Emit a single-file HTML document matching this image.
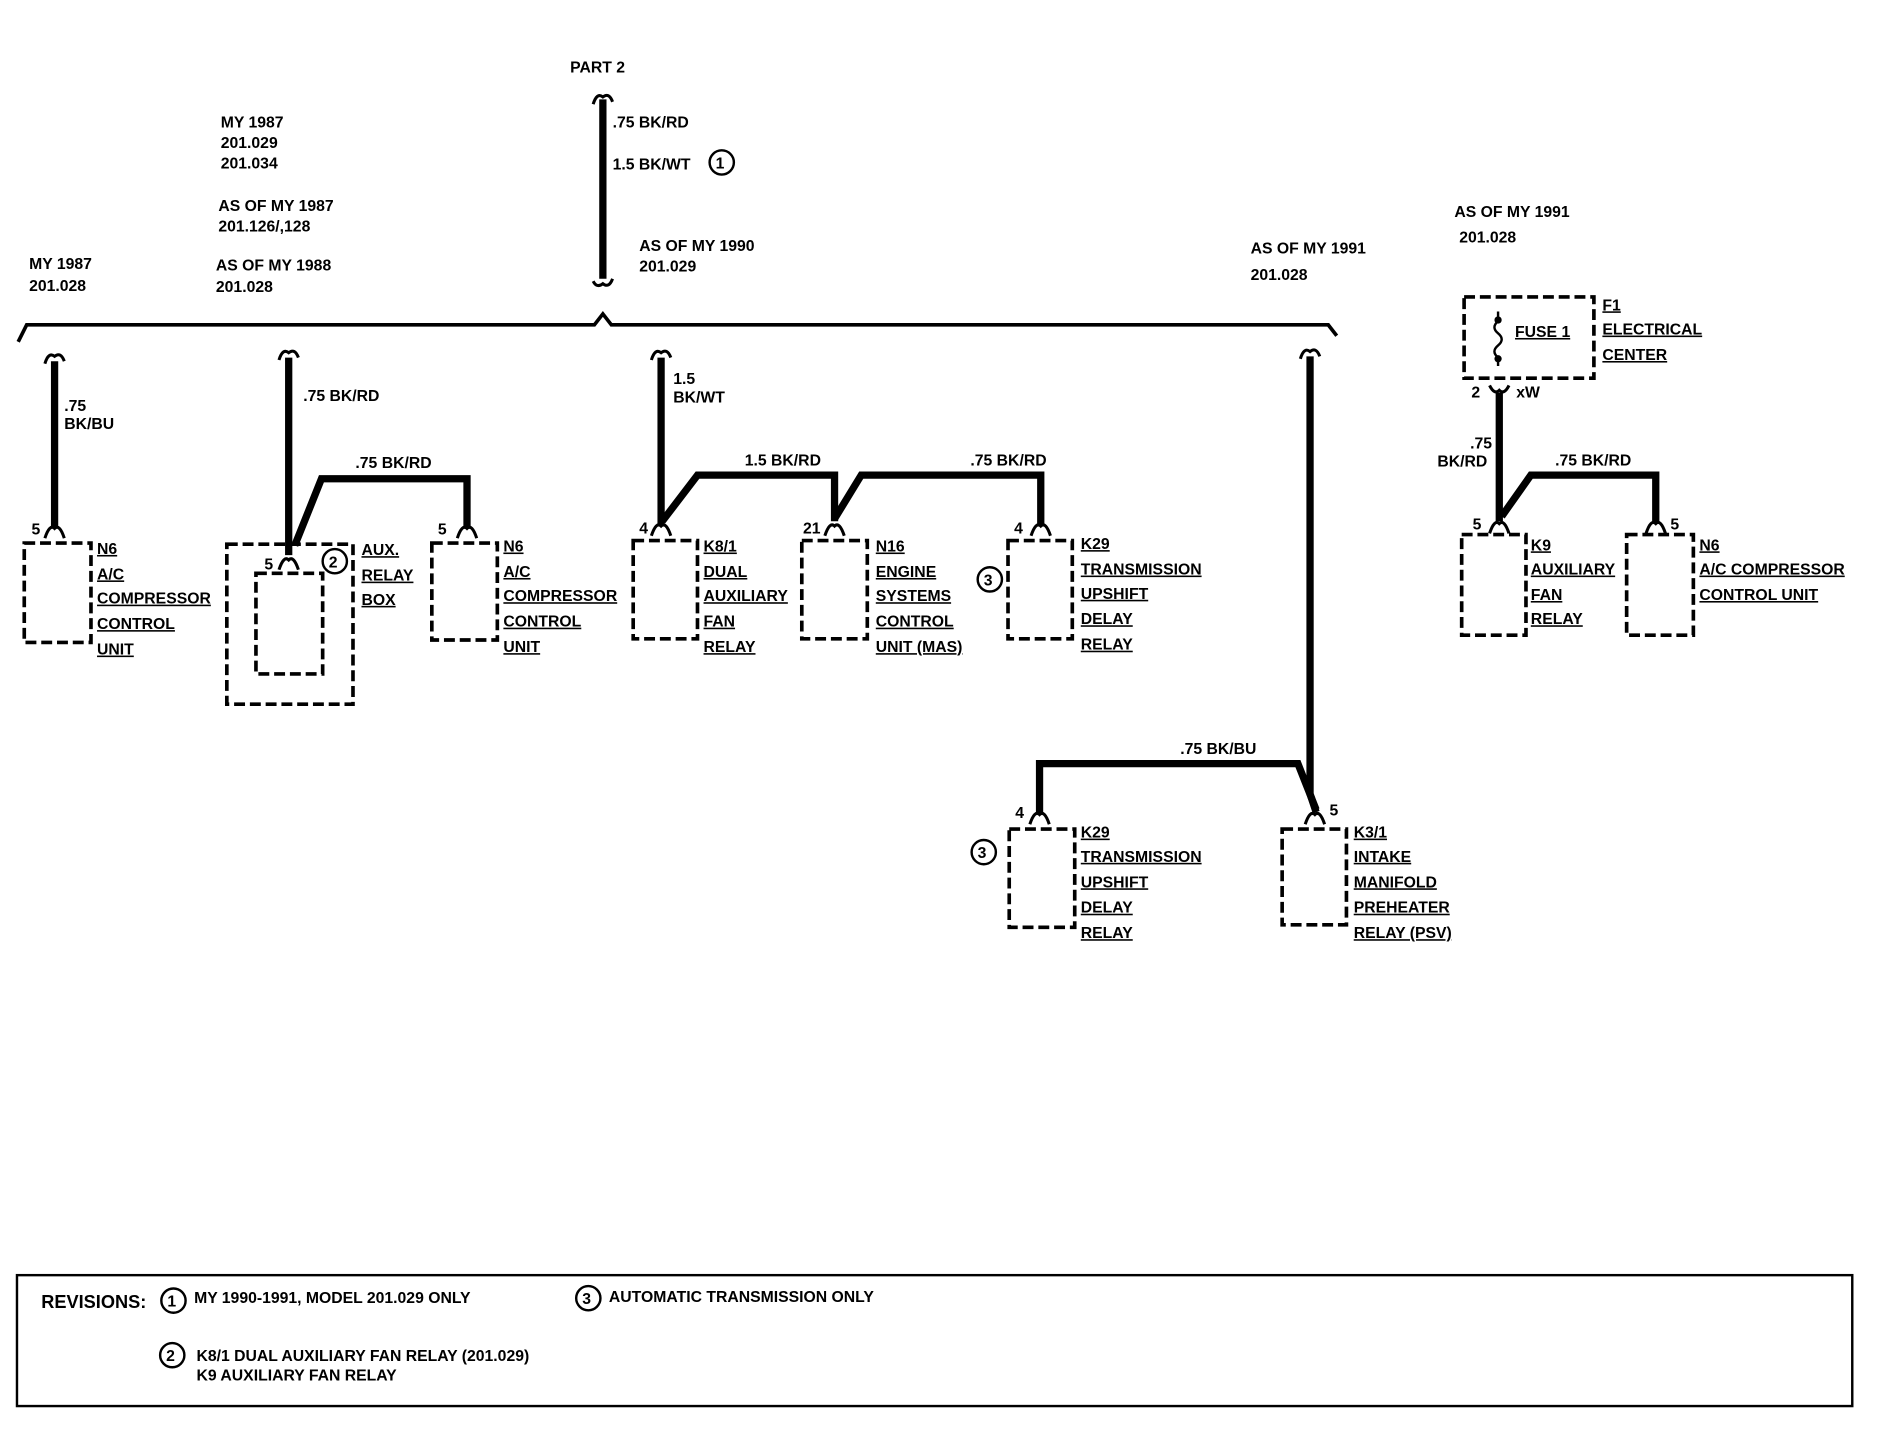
<!DOCTYPE html>
<html><head><meta charset="utf-8"><style>
html,body{margin:0;padding:0;background:#fff;}
svg{display:block;}
text{font-family:"Liberation Sans",Arial,sans-serif;font-weight:bold;font-size:13px;fill:#000;}
.u{text-decoration:underline;}
.w{stroke:#000;stroke-width:6;fill:none;stroke-linejoin:miter;}
.b{stroke:#000;stroke-width:3;fill:none;stroke-dasharray:9 4;}
.h{stroke:#000;stroke-width:2.5;fill:none;}
.c{stroke:#000;stroke-width:2;fill:#fff;}
</style></head><body>
<svg width="1902" height="1440" viewBox="0 0 1568 1188" preserveAspectRatio="none" xmlns="http://www.w3.org/2000/svg">
<rect width="1568" height="1188" fill="#fff"/>
<text x="470" y="60">PART 2</text>
<line class="w" x1="497" y1="82" x2="497" y2="230"/>
<path class="h" d="M489 86 Q492 76 497 80 Q502 76 505 84"/>
<path class="h" d="M489 232 Q492 238 497 234 Q502 238 505 230"/>
<text x="505" y="105">.75 BK/RD</text>
<text x="505" y="140">1.5 BK/WT</text>
<circle class="c" cx="595" cy="134" r="10"/><text x="590" y="139">1</text>
<text x="182" y="105">MY 1987</text><text x="182" y="122">201.029</text><text x="182" y="139">201.034</text>
<text x="180" y="174">AS OF MY 1987</text><text x="180" y="191">201.126/,128</text>
<text x="178" y="223">AS OF MY 1988</text><text x="178" y="241">201.028</text>
<text x="24" y="222">MY 1987</text><text x="24" y="240">201.028</text>
<text x="527" y="207">AS OF MY 1990</text><text x="527" y="224">201.029</text>
<text x="1031" y="209">AS OF MY 1991</text><text x="1031" y="231">201.028</text>
<text x="1199" y="179">AS OF MY 1991</text><text x="1203" y="200">201.028</text>
<path d="M15 282 L22 268 L490 268 L497 259 L504 268 L1095 268 L1102 277" stroke="#000" stroke-width="3" fill="none"/>

<line class="w" x1="45" y1="298" x2="45" y2="436"/>
<path class="h" d="M37 300 Q40 290 45 294 Q50 290 53 298"/>
<path class="h" d="M37 444 Q41 432 45 436 Q49 432 53 444"/>
<text x="53" y="339">.75</text><text x="53" y="354">BK/BU</text>
<text x="26" y="441">5</text>
<rect class="b" x="20" y="448" width="55" height="82"/>
<g class="u"><text x="80" y="457">N6</text><text x="80" y="478">A/C</text><text x="80" y="498">COMPRESSOR</text><text x="80" y="519">CONTROL</text><text x="80" y="540">UNIT</text></g>

<line class="w" x1="238" y1="295" x2="238" y2="458"/>
<path class="h" d="M230 297 Q233 287 238 291 Q243 287 246 295"/>
<path class="w" d="M243 450 L265 395 L385 395 L385 436"/>
<path class="h" d="M377 444 Q381 432 385 436 Q389 432 393 444"/>
<path class="h" d="M230 470 Q234 458 238 462 Q242 458 246 470"/>
<text x="250" y="331">.75 BK/RD</text>
<text x="293" y="386">.75 BK/RD</text>
<rect class="b" x="187" y="449" width="104" height="132"/>
<rect class="b" x="211" y="473" width="55" height="83"/>
<text x="218" y="470">5</text>
<circle class="c" cx="276" cy="463" r="10"/><text x="271" y="468">2</text>
<g class="u"><text x="298" y="458">AUX.</text><text x="298" y="479">RELAY</text><text x="298" y="499">BOX</text></g>
<text x="361" y="441">5</text>
<rect class="b" x="356" y="448" width="54" height="80"/>
<g class="u"><text x="415" y="455">N6</text><text x="415" y="476">A/C</text><text x="415" y="496">COMPRESSOR</text><text x="415" y="517">CONTROL</text><text x="415" y="538">UNIT</text></g>

<line class="w" x1="545" y1="295" x2="545" y2="434"/>
<path class="h" d="M537 297 Q540 287 545 291 Q550 287 553 295"/>
<path class="w" d="M546 430 L575 392 L688 392 L688 430"/>
<path class="w" d="M688 428 L710 392 L858 392 L858 434"/>
<path class="h" d="M537 442 Q541 430 545 434 Q549 430 553 442"/>
<path class="h" d="M680 442 Q684 430 688 434 Q692 430 696 442"/>
<path class="h" d="M850 442 Q854 430 858 434 Q862 430 866 442"/>
<text x="555" y="317">1.5</text><text x="555" y="332">BK/WT</text>
<text x="614" y="384">1.5 BK/RD</text><text x="800" y="384">.75 BK/RD</text>
<text x="527" y="440">4</text>
<rect class="b" x="522" y="446" width="53" height="81"/>
<g class="u"><text x="580" y="455">K8/1</text><text x="580" y="476">DUAL</text><text x="580" y="496">AUXILIARY</text><text x="580" y="517">FAN</text><text x="580" y="538">RELAY</text></g>
<text x="662" y="440">21</text>
<rect class="b" x="661" y="446" width="54" height="81"/>
<g class="u"><text x="722" y="455">N16</text><text x="722" y="476">ENGINE</text><text x="722" y="496">SYSTEMS</text><text x="722" y="517">CONTROL</text><text x="722" y="538">UNIT (MAS)</text></g>
<text x="836" y="440">4</text>
<rect class="b" x="831" y="446" width="53" height="81"/>
<circle class="c" cx="816" cy="478" r="10"/><text x="811" y="483">3</text>
<g class="u"><text x="891" y="453">K29</text><text x="891" y="474">TRANSMISSION</text><text x="891" y="494">UPSHIFT</text><text x="891" y="515">DELAY</text><text x="891" y="536">RELAY</text></g>

<path class="w" d="M1080 294 L1080 655 L1085 670"/>
<path class="h" d="M1072 296 Q1075 286 1080 290 Q1085 286 1088 294"/>
<path class="w" d="M1085 668 L1070 630 L857 630 L857 672"/>
<path class="h" d="M849 680 Q853 668 857 672 Q861 668 865 680"/>
<path class="h" d="M1076 680 Q1080 668 1084 672 Q1088 668 1092 680"/>
<text x="973" y="622">.75 BK/BU</text>
<text x="837" y="675">4</text><text x="1096" y="673">5</text>
<rect class="b" x="832" y="684" width="54" height="81"/>
<circle class="c" cx="811" cy="703" r="10"/><text x="806" y="708">3</text>
<g class="u"><text x="891" y="691">K29</text><text x="891" y="711">TRANSMISSION</text><text x="891" y="732">UPSHIFT</text><text x="891" y="753">DELAY</text><text x="891" y="774">RELAY</text></g>
<rect class="b" x="1057" y="684" width="53" height="79"/>
<g class="u"><text x="1116" y="691">K3/1</text><text x="1116" y="711">INTAKE</text><text x="1116" y="732">MANIFOLD</text><text x="1116" y="753">PREHEATER</text><text x="1116" y="774">RELAY (PSV)</text></g>

<rect class="b" x="1207" y="245" width="107" height="67"/>
<path d="M1235 257 L1235 265 Q1229 270 1235 275 Q1241 280 1235 285 Q1229 290 1235 295 L1235 302" stroke="#000" stroke-width="2" fill="none"/>
<circle cx="1235" cy="264" r="3"/><circle cx="1235" cy="296" r="3"/>
<text class="u" x="1249" y="278">FUSE 1</text>
<g class="u"><text x="1321" y="256">F1</text><text x="1321" y="276">ELECTRICAL</text><text x="1321" y="297">CENTER</text></g>
<path class="h" d="M1228 318 Q1232 326 1236 322 Q1240 326 1244 318"/>
<text x="1213" y="328">2</text><text x="1250" y="328">xW</text>
<line class="w" x1="1236" y1="324" x2="1236" y2="430"/>
<path class="w" d="M1238 426 L1262 392 L1365 392 L1365 432"/>
<path class="h" d="M1228 440 Q1232 428 1236 432 Q1240 428 1244 440"/>
<path class="h" d="M1357 440 Q1361 428 1365 432 Q1369 428 1373 440"/>
<text x="1212" y="370">.75</text><text x="1185" y="385">BK/RD</text>
<text x="1282" y="384">.75 BK/RD</text>
<text x="1214" y="437">5</text><text x="1377" y="437">5</text>
<rect class="b" x="1205" y="441" width="53" height="83"/>
<g class="u"><text x="1262" y="454">K9</text><text x="1262" y="474">AUXILIARY</text><text x="1262" y="495">FAN</text><text x="1262" y="515">RELAY</text></g>
<rect class="b" x="1341" y="441" width="55" height="83"/>
<g class="u"><text x="1401" y="454">N6</text><text x="1401" y="474">A/C COMPRESSOR</text><text x="1401" y="495">CONTROL UNIT</text></g>

<rect x="14" y="1052" width="1513" height="108" stroke="#000" stroke-width="2" fill="none"/>
<text x="34" y="1079" style="font-size:15px">REVISIONS:</text>
<circle class="c" cx="143" cy="1073" r="10"/><text x="138" y="1078">1</text>
<text x="160" y="1075">MY 1990-1991, MODEL 201.029 ONLY</text>
<circle class="c" cx="485" cy="1071" r="10"/><text x="480" y="1076">3</text>
<text x="502" y="1074">AUTOMATIC TRANSMISSION ONLY</text>
<circle class="c" cx="142" cy="1118" r="10"/><text x="137" y="1123">2</text>
<text x="162" y="1123">K8/1 DUAL AUXILIARY FAN RELAY (201.029)</text>
<text x="162" y="1139">K9 AUXILIARY FAN RELAY</text>
</svg>
</body></html>
